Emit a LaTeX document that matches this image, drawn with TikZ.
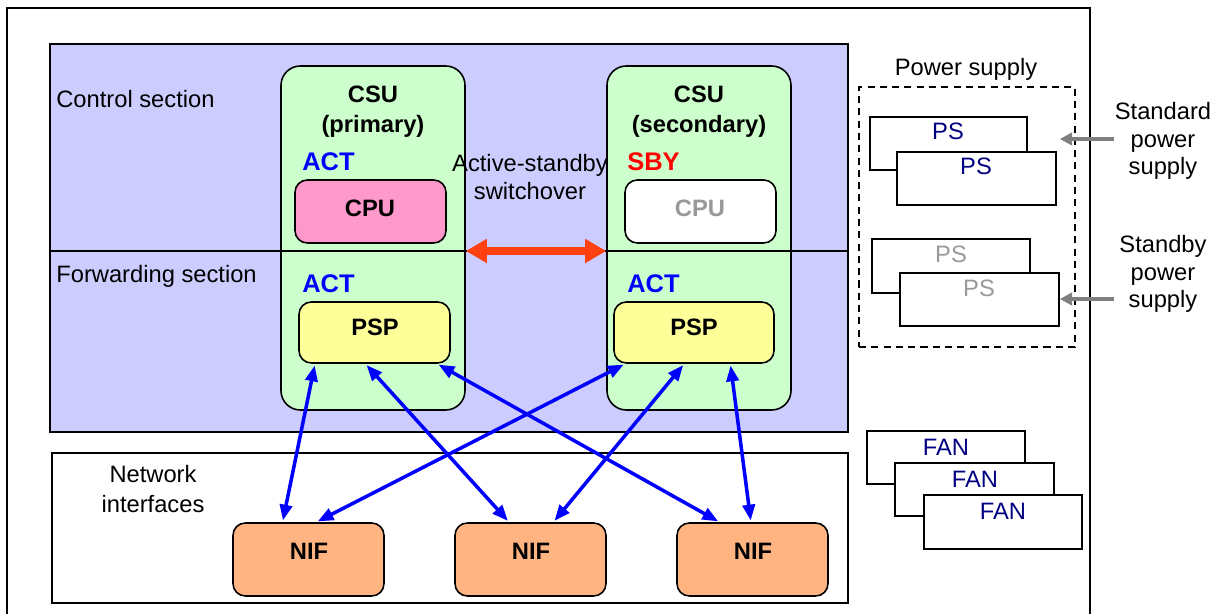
\documentclass[tikz,border=0pt]{standalone}
\usepackage{fontspec}
\setmainfont{Liberation Sans}
\usetikzlibrary{arrows.meta,calc,fit}
\definecolor{lav}{HTML}{CCCCFF}
\definecolor{grn}{HTML}{CCFFCC}
\definecolor{pinkc}{HTML}{FF99CC}
\definecolor{yel}{HTML}{FFFF99}
\definecolor{nifc}{HTML}{FFB482}
\definecolor{navyt}{HTML}{000080}
\definecolor{redarr}{HTML}{FF4010}
\definecolor{actblue}{HTML}{0000FF}
\definecolor{grayt}{HTML}{999999}
\definecolor{grayarr}{HTML}{808080}
\tikzset{
  box/.style={draw, line width=0.9pt, inner sep=0pt},
  csubox/.style={box, fill=grn, rounded corners=11pt},
  cpubox/.style={box, rounded corners=7pt},
  nifbox/.style={box, fill=nifc, rounded corners=7pt},
  psbox/.style={box, fill=white},
  txt/.style={inner sep=0pt, font=\fontsize{13.5}{16}\selectfont},
  btxt/.style={inner sep=0pt, font=\fontsize{13.5}{17}\selectfont\bfseries, align=center},
  stat/.style={inner sep=0pt, anchor=west, font=\fontsize{14.5}{17}\selectfont\bfseries},
  navytxt/.style={txt, text=navyt},
  blarrow/.style={draw=actblue, line width=2pt, {Triangle[length=9pt,width=7pt]}-{Triangle[length=9pt,width=7pt]}, shorten <=1pt, shorten >=1pt},
  redarrow/.style={draw=redarr, line width=4pt, {Triangle[length=12pt,width=13pt]}-{Triangle[length=12pt,width=13pt]}},
  grarrow/.style={draw=grayarr, line width=2.3pt, -{Triangle[length=7pt,width=7pt]}}
}
\begin{document}
\begin{tikzpicture}[x=0.02cm,y=-0.02cm]
\useasboundingbox (0,0) rectangle (1225,614);
\clip (0,0) rectangle (1225,614);
% outer frame
\node[box, fit={(7,8)(1090,650)}] (frame) {};
% control / forwarding area
\node[box, fill=lav, line width=1.1pt, fit={(50,44)(848,432)}] (area) {};
\node[txt, anchor=west] (ctltxt) at (56,99) {Control section};
\node[txt, anchor=west] (fwdtxt) at (56,276) {Forwarding section};
% CSU boxes
\node[csubox, fit={(281,66)(465,410)}] (csu1) {};
\node[csubox, fit={(607,66)(791,410)}] (csu2) {};
\coordinate (divy) at (0,251);
\draw[line width=0.9pt] (area.west |- divy) -- (area.east |- divy);
\node[btxt] (csu1t) at (373,112) {CSU\\(primary)};
\node[btxt] (csu2t) at (699,112) {CSU\\(secondary)};
\node[stat, text=actblue] (act1) at (302,162) {ACT};
\node[stat, text=red] (sby2) at (627,162) {SBY};
\node[stat, text=actblue] (act3) at (302,284) {ACT};
\node[stat, text=actblue] (act4) at (627,284) {ACT};
\node[cpubox, fill=pinkc, fit={(295,180)(446,243)}] (cpu1) {};
\node[cpubox, fill=white, fit={(625,180)(776,243)}] (cpu2) {};
\node[btxt] (cpu1t) at (370,208) {CPU};
\node[btxt, text=grayt] (cpu2t) at (700,208) {CPU};
\node[cpubox, fill=yel, fit={(299,302)(450,363)}] (psp1) {};
\node[cpubox, fill=yel, fit={(614,302)(774,363)}] (psp2) {};
\node[btxt] (psp1t) at (375,327) {PSP};
\node[btxt] (psp2t) at (694,327) {PSP};
\node[txt, align=center, font=\fontsize{13.5}{15.5}\selectfont] (swtxt) at (530,177) {Active-standby\\switchover};
\draw[redarrow] (csu1.east |- divy) -- (csu2.west |- divy);
% network interfaces
\node[box, fill=white, fit={(52,453)(848,603)}] (netbox) {};
\node[txt, align=center, font=\fontsize{13.5}{17.5}\selectfont] (nettxt) at (153,489) {Network\\interfaces};
\node[nifbox, fit={(233,523)(384,596)}] (nif1) {};
\node[nifbox, fit={(455,523)(606,596)}] (nif2) {};
\node[nifbox, fit={(677,523)(828,596)}] (nif3) {};
\node[btxt] (nif1t) at (309,551) {NIF};
\node[btxt] (nif2t) at (531,551) {NIF};
\node[btxt] (nif3t) at (753,551) {NIF};
% blue links
\draw[blarrow] ($(psp1.south west)!0.11!(psp1.south east)$) -- ($(nif1.north west)!0.33!(nif1.north east)$);
\draw[blarrow] ($(psp1.south west)!0.44!(psp1.south east)$) -- ($(nif2.north west)!0.36!(nif2.north east)$);
\draw[blarrow] ($(psp1.south west)!0.91!(psp1.south east)$) -- ($(nif3.north west)!0.285!(nif3.north east)$);
\draw[blarrow] ($(psp2.south west)!0.075!(psp2.south east)$) -- ($(nif1.north west)!0.55!(nif1.north east)$);
\draw[blarrow] ($(psp2.south west)!0.44!(psp2.south east)$) -- ($(nif2.north west)!0.65!(nif2.north east)$);
\draw[blarrow] ($(psp2.south west)!0.725!(psp2.south east)$) -- ($(nif3.north west)!0.49!(nif3.north east)$);
% power supply
\node[txt] (pstitle) at (966,69) {Power supply};
\node[box, dashed, dash pattern=on 4pt off 3pt, fit={(859,87)(1075,347)}] (psdash) {};
\node[psbox, fit={(870,117)(1027,170)}] (ps1) {};
\node[navytxt] (ps1t) at (948,131) {PS};
\node[psbox, fit={(897,152)(1056,205)}] (ps2) {};
\node[navytxt] (ps2t) at (976,166) {PS};
\node[psbox, fit={(872,239)(1030,293)}] (ps3) {};
\node[txt, text=grayt] (ps3t) at (951,254) {PS};
\node[psbox, fit={(900,273)(1059,326)}] (ps4) {};
\node[txt, text=grayt] (ps4t) at (979,288) {PS};
\node[txt, align=center, font=\fontsize{13.5}{15.6}\selectfont] (stdtxt) at (1163,141) {Standard\\power\\supply};
\node[txt, align=center, font=\fontsize{13.5}{15.6}\selectfont] (sbytxt) at (1163,274) {Standby\\power\\supply};
\coordinate (g1) at (1114,139);
\coordinate (g2) at (1114,299);
\draw[grarrow] (g1) -- ($(g1 -| ps2.east)+(3,0)$);
\draw[grarrow] (g2) -- (g2 -| ps4.east);
% fans
\node[psbox, fit={(867,431)(1025,484)}] (fan1) {};
\node[navytxt] (fan1t) at (946,447) {FAN};
\node[psbox, fit={(895,463)(1054,516)}] (fan2) {};
\node[navytxt] (fan2t) at (975,479) {FAN};
\node[psbox, fit={(924,495)(1082,549)}] (fan3) {};
\node[navytxt] (fan3t) at (1003,511) {FAN};
\end{tikzpicture}
\end{document}
